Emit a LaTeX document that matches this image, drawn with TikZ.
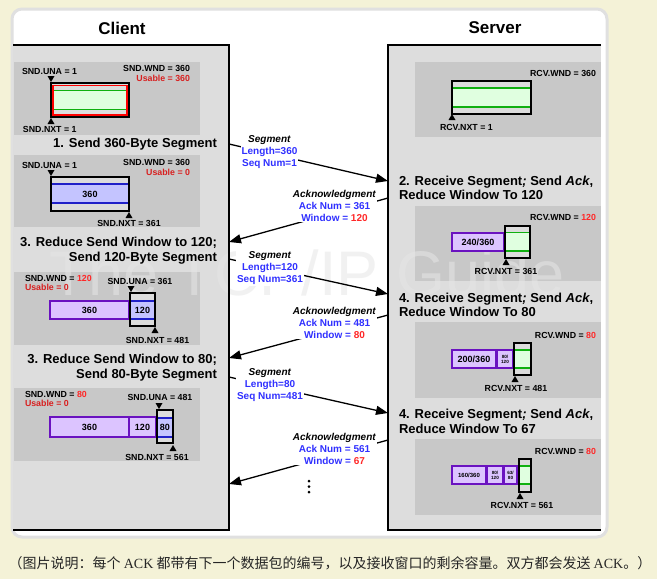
\documentclass[tikz,border=0pt]{standalone}
\usepackage{fontspec}
\setmainfont{Liberation Sans}
\newfontfamily\cjk{Noto Sans CJK SC}
\newfontfamily\latserif{Liberation Serif}
\usetikzlibrary{arrows.meta}
\definecolor{cream}{HTML}{F4F2D7}
\definecolor{panelc}{HTML}{DDDDDD}
\definecolor{iboxc}{HTML}{C8C8C8}
\definecolor{wingray}{HTML}{DCDCDC}
\definecolor{gfill}{HTML}{E0FFE0}
\definecolor{gline}{HTML}{10B010}
\definecolor{bfill}{HTML}{C4C4FF}
\definecolor{bline}{HTML}{2020C8}
\definecolor{pfill}{HTML}{DCC4FF}
\definecolor{pline}{HTML}{6A12C0}
\definecolor{lblue}{HTML}{3030FF}
\definecolor{tred}{HTML}{FF2828}
\definecolor{dred}{HTML}{D82020}
\definecolor{wmark}{HTML}{E6E6E6}
\newcommand\mkdn[2]{\fill (#1-3.5,#2-6) -- (#1+3.5,#2-6) -- (#1,#2) -- cycle;}
\newcommand\mkup[2]{\fill (#1-3.5,#2+6) -- (#1+3.5,#2+6) -- (#1,#2) -- cycle;}
\newcommand\wnd[8]{%
 \fill[wingray] (#1,#2) rectangle (#3,#4);
 \fill[#7] (#1,#5) rectangle (#3,#6);
 \draw[#8, line width=1.5pt] (#1,#5) -- (#3,#5) (#1,#6) -- (#3,#6);
 \draw[black, line width=2.2pt] (#1,#2) rectangle (#3,#4);
}
\tikzset{
 every node/.style={inner sep=0pt, outer sep=0pt},
 ttl/.style={font=\bfseries\fontsize{17}{18}\selectfont},
 sm/.style={font=\bfseries\fontsize{8.8}{9.8}\selectfont, align=right},
 stp/.style={font=\bfseries\fontsize{13}{14.5}\selectfont, align=right},
 stpl/.style={font=\bfseries\fontsize{13}{14.5}\selectfont, align=left},
 albl/.style={font=\bfseries\fontsize{10}{12}\selectfont, align=center, fill=white, inner sep=1pt},
 arr/.style={line width=1.3pt, -{Triangle[length=12pt,width=9pt]}},
 pbox/.style={draw=pline, fill=pfill, line width=1.6pt, font=\bfseries\fontsize{9}{9}\selectfont},
 wtxt/.style={font=\bfseries\fontsize{9}{9}\selectfont},
 ibox/.style={fill=iboxc},
}
\begin{document}
\begin{tikzpicture}[x=1pt,y=-1pt]
\useasboundingbox (0,0) rectangle (657,579);
\fill[cream] (0,0) rectangle (657,579);
\draw[draw=black!12, line width=3pt, fill=white, rounded corners=10pt] (12,9) rectangle (607,537);

% panels
\fill[panelc] (13,45) rectangle (229,530);
\fill[panelc] (388,45) rectangle (601,530);

% inner boxes
\fill[ibox] (14,62) rectangle (200,135);
\fill[ibox] (14,155) rectangle (200,227);
\fill[ibox] (14,272) rectangle (200,345);
\fill[ibox] (14,388) rectangle (200,461);
\fill[ibox] (415,62) rectangle (601,137);
\fill[ibox] (415,206) rectangle (601,281);
\fill[ibox] (415,322) rectangle (601,398);
\fill[ibox] (415,439) rectangle (601,515);

% watermark
\node[font=\fontsize{63}{63}\selectfont, text=wmark, opacity=0.55] (wm) at (307,273) {The TCP/IP Guide};

\draw[line width=2pt] (13,45) -- (229,45) -- (229,530) -- (13,530);
\draw[line width=2pt] (601,45) -- (388,45) -- (388,530) -- (601,530);

% titles
\node[ttl] (client) at (122,28) {Client};
\node[ttl] (server) at (495,28) {Server};

% ---------- Client box 1
\wnd{51}{83}{129}{117}{90.5}{109.5}{gfill}{gline}
\draw[red, line width=1.4pt] (53,85.2) rectangle (127,114.8);
\node[sm, anchor=west] (una1) at (22,71) {SND.UNA = 1};
\node[sm, anchor=east] (wnd1) at (190,73.5) {SND.WND = 360\\\textcolor{dred}{Usable = 360}};
\mkdn{51}{82}
\mkup{51}{118}
\node[sm, anchor=west] (nxt1) at (23,129) {SND.NXT = 1};
\node[stp, anchor=east] (st1) at (217,144) {1. Send 360-Byte Segment};

% ---------- Client box 2
\wnd{51}{177}{129}{211}{184}{203}{bfill}{bline}
\node[wtxt] (n2) at (90,194) {360};
\node[sm, anchor=west] (una2) at (22,165) {SND.UNA = 1};
\node[sm, anchor=east] (wnd2) at (190,167.5) {SND.WND = 360\\\textcolor{dred}{Usable = 0}};
\mkdn{51}{176}
\mkup{129}{212}
\node[sm] (nxt2) at (129,223) {SND.NXT = 361};
\node[stp, anchor=east] (st2) at (217,250.5) {3. Reduce Send Window to 120;\\Send 120-Byte Segment};

% ---------- Client box 3
\node[pbox, minimum width=79pt, minimum height=18pt] (p31) at (89.5,310) {360};
\wnd{130}{293}{155}{326}{301}{319}{bfill}{bline}
\node[wtxt] (n3) at (142.5,310) {120};
\node[sm, anchor=west, align=left] (wnd3) at (25,283) {SND.WND = \textcolor{tred}{120}\\\textcolor{dred}{Usable = 0}};
\node[sm] (una3) at (140,281) {SND.UNA = 361};
\mkdn{131}{292}
\mkup{155}{327}
\node[sm] (nxt3) at (157.5,340) {SND.NXT = 481};
\node[stp, anchor=east] (st3) at (217,367.5) {3. Reduce Send Window to 80;\\Send 80-Byte Segment};

% ---------- Client box 4
\node[pbox, minimum width=79pt, minimum height=20pt] (p41) at (89.5,427) {360};
\node[pbox, minimum width=27pt, minimum height=20pt] (p42) at (142.5,427) {120};
\wnd{157}{410}{173}{443}{418}{437}{bfill}{bline}
\node[wtxt] (n4) at (165,427) {80};
\node[sm, anchor=west, align=left] (wnd4) at (25,399) {SND.WND = \textcolor{tred}{80}\\\textcolor{dred}{Usable = 0}};
\node[sm] (una4) at (160,397) {SND.UNA = 481};
\mkdn{159}{409}
\mkup{173}{445}
\node[sm] (nxt4) at (157,457) {SND.NXT = 561};

% ---------- Server box 1
\wnd{452}{81}{531}{114}{88}{107}{gfill}{gline}
\node[sm, anchor=east] (rw1) at (596,73) {RCV.WND = 360};
\mkup{452}{114}
\node[sm, anchor=west] (rn1) at (440,127) {RCV.NXT = 1};
\node[stpl, anchor=west] (ss1) at (399,188) {2. Receive Segment\textit{;} Send \textit{Ack},\\Reduce Window To 120};

% ---------- Server box 2
\node[pbox, minimum width=52pt, minimum height=18pt] (q21) at (478,242) {240/360};
\wnd{505}{226}{530}{258}{232.5}{251}{gfill}{gline}
\node[sm, anchor=east] (rw2) at (596,217) {RCV.WND = \textcolor{tred}{120}};
\mkup{506}{259}
\node[sm] (rn2) at (506,271) {RCV.NXT = 361};
\node[stpl, anchor=west] (ss2) at (399,305) {4. Receive Segment\textit{;} Send \textit{Ack},\\Reduce Window To 80};

% ---------- Server box 3
\node[pbox, minimum width=44pt, minimum height=18pt] (q31) at (474,359) {200/360};
\node[pbox, minimum width=16pt, minimum height=18pt, font=\bfseries\fontsize{4.6}{4.8}\selectfont, align=center] (q32) at (505,359) {80/\\120};
\wnd{514}{343}{531}{375}{350}{368}{gfill}{gline}
\node[sm, anchor=east] (rw3) at (596,335) {RCV.WND = \textcolor{tred}{80}};
\mkup{515}{376}
\node[sm] (rn3) at (516,388) {RCV.NXT = 481};
\node[stpl, anchor=west] (ss3) at (399,421.5) {4. Receive Segment\textit{;} Send \textit{Ack},\\Reduce Window To 67};

% ---------- Server box 4
\node[pbox, minimum width=34pt, minimum height=18pt, font=\bfseries\fontsize{6}{6}\selectfont] (q41) at (469,475) {160/360};
\node[pbox, minimum width=16pt, minimum height=18pt, font=\bfseries\fontsize{4.6}{4.8}\selectfont, align=center] (q42) at (495,475) {80/\\120};
\node[pbox, minimum width=13pt, minimum height=18pt, font=\bfseries\fontsize{4.6}{4.8}\selectfont, align=center] (q43) at (510.5,475) {63/\\80};
\wnd{519}{459}{531}{492}{466}{484}{gfill}{gline}
\node[sm, anchor=east] (rw4) at (596,451) {RCV.WND = \textcolor{tred}{80}};
\mkup{520}{493}
\node[sm] (rn4) at (522,505) {RCV.NXT = 561};

% ---------- arrows
\coordinate (c1) at (229,144); \coordinate (s1) at (388,181);
\coordinate (s2) at (388,198); \coordinate (c2) at (229,242);
\coordinate (c3) at (229,259); \coordinate (s3) at (388,294);
\coordinate (s4) at (388,315); \coordinate (c4) at (229,358);
\coordinate (c5) at (229,377); \coordinate (s5) at (388,413);
\coordinate (s6) at (388,440); \coordinate (c6) at (229,484);
\draw[arr] (c1) -- (s1);
\draw[arr] (s2) -- (c2);
\draw[arr] (c3) -- (s3);
\draw[arr] (s4) -- (c4);
\draw[arr] (c5) -- (s5);
\draw[arr] (s6) -- (c6);

\node[albl] (l1) at (269.5,152.5) {\textit{Segment}\\\textcolor{lblue}{Length=360}\\\textcolor{lblue}{Seq Num=1}};
\node[albl] (l2) at (334.5,205.5) {\textit{Acknowledgment}\\\textcolor{lblue}{Ack Num = 361}\\\textcolor{lblue}{Window = }\textcolor{tred}{120}};
\node[albl] (l3) at (270,268.5) {\textit{Segment}\\\textcolor{lblue}{Length=120}\\\textcolor{lblue}{Seq Num=361}};
\node[albl] (l4) at (334.5,322.5) {\textit{Acknowledgment}\\\textcolor{lblue}{Ack Num = 481}\\\textcolor{lblue}{Window = }\textcolor{tred}{80}};
\node[albl] (l5) at (270,385.5) {\textit{Segment}\\\textcolor{lblue}{Length=80}\\\textcolor{lblue}{Seq Num=481}};
\node[albl] (l6) at (334.5,448.5) {\textit{Acknowledgment}\\\textcolor{lblue}{Ack Num = 561}\\\textcolor{lblue}{Window = }\textcolor{tred}{67}};

% dots
\fill (309,481) circle (1.5pt);
\fill (309,486.5) circle (1.5pt);
\fill (309,492) circle (1.5pt);

% caption
\node[font=\cjk\fontsize{14}{14}\selectfont, text=black!85] (cap) at (330,563) {（图片说明：每个 {\latserif ACK} 都带有下一个数据包的编号，以及接收窗口的剩余容量。双方都会发送 {\latserif ACK}。）};
\end{tikzpicture}
\end{document}
